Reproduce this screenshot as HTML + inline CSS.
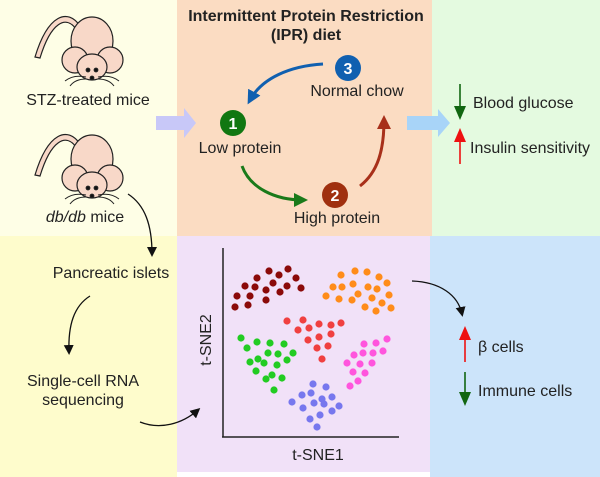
<!DOCTYPE html>
<html><head><meta charset="utf-8"><style>
html,body{margin:0;padding:0;background:#fff}
svg{display:block}
text{font-family:"Liberation Sans",sans-serif;fill:#222}
</style></head><body>
<svg width="600" height="477" viewBox="0 0 600 477" xmlns="http://www.w3.org/2000/svg">
<defs>
<marker id="ah" markerWidth="10" markerHeight="10" refX="7" refY="5" orient="auto" markerUnits="userSpaceOnUse"><path d="M0,0 L10,5 L0,10 z" fill="#111"/></marker>
<marker id="ab" markerWidth="14" markerHeight="14" refX="9" refY="7" orient="auto" markerUnits="userSpaceOnUse"><path d="M0,0 L14,7 L0,14 z" fill="#1060b0"/></marker>
<marker id="ag" markerWidth="14" markerHeight="14" refX="9" refY="7" orient="auto" markerUnits="userSpaceOnUse"><path d="M0,0 L14,7 L0,14 z" fill="#1a7a1a"/></marker>
<marker id="ar" markerWidth="14" markerHeight="14" refX="9" refY="7" orient="auto" markerUnits="userSpaceOnUse"><path d="M0,0 L14,7 L0,14 z" fill="#a8301a"/></marker>
<g id="mouse" stroke="#222" stroke-width="1.2" fill="#f8d8c8">
<path d="M80,26 C68,8 48,14 35,57 L40,58 C51,22 66,15 76,29 z"/>
<ellipse cx="92" cy="41" rx="21" ry="24"/>
<circle cx="75" cy="60" r="13"/>
<circle cx="110" cy="60" r="13"/>
<ellipse cx="92" cy="67" rx="15" ry="13"/>
<circle cx="88" cy="70" r="1.8" fill="#111"/>
<circle cx="96" cy="70" r="1.8" fill="#111"/>
<circle cx="92" cy="78" r="1.8" fill="#111"/>
<path d="M86,77 C77,75 70,77 65,81 M86,79 C78,79 73,82 70,86 M98,77 C107,75 114,77 119,81 M98,79 C106,79 111,82 114,86" fill="none" stroke-width="1"/>
</g>
</defs>
<rect x="0" y="0" width="177" height="236" fill="#fefee6"/>
<rect x="177" y="0" width="255" height="236" fill="#fbdcc2"/>
<rect x="432" y="0" width="168" height="236" fill="#e4fae0"/>
<rect x="0" y="236" width="177" height="241" fill="#fefccc"/>
<rect x="177" y="236" width="253" height="236" fill="#f1e1f8"/>
<rect x="430" y="236" width="170" height="241" fill="#cce4fa"/>

<use href="#mouse"/>
<use href="#mouse" y="118"/>
<text x="88" y="105" font-size="16" text-anchor="middle">STZ-treated mice</text>
<text x="85" y="222" font-size="16" text-anchor="middle"><tspan font-style="italic">db/db</tspan> mice</text>
<path d="M128,194 C145,205 152,225 152,254" fill="none" stroke="#111" stroke-width="1.3" marker-end="url(#ah)"/>
<text x="111" y="278" font-size="16" text-anchor="middle">Pancreatic islets</text>
<path d="M90,296 C74,306 68,325 69,352" fill="none" stroke="#111" stroke-width="1.3" marker-end="url(#ah)"/>
<text x="83" y="386" font-size="16" text-anchor="middle">Single-cell RNA</text>
<text x="83" y="405" font-size="16" text-anchor="middle">sequencing</text>
<path d="M140,422 C160,430 182,424 198,410" fill="none" stroke="#111" stroke-width="1.3" marker-end="url(#ah)"/>

<path d="M156,116 L184,116 L184,108 L196,123 L184,138 L184,130 L156,130 z" fill="#c8c8f8"/>
<path d="M407,116 L438,116 L438,109 L450,123 L438,137 L438,130 L407,130 z" fill="#a8d4f8"/>

<text x="306" y="21" font-size="16" font-weight="bold" text-anchor="middle">Intermittent Protein Restriction</text>
<text x="306" y="40" font-size="16" font-weight="bold" text-anchor="middle">(IPR) diet</text>
<path d="M323,64 C290,66 262,78 250,100" fill="none" stroke="#1060b0" stroke-width="3" marker-end="url(#ab)"/>
<path d="M242,166 C250,188 275,200 303,200" fill="none" stroke="#1a7a1a" stroke-width="3" marker-end="url(#ag)"/>
<path d="M360,186 C378,172 384,150 384,120" fill="none" stroke="#a8301a" stroke-width="3" marker-end="url(#ar)"/>
<circle cx="348" cy="68" r="13" fill="#1060b0"/>
<text x="348" y="74" font-size="16" font-weight="bold" style="fill:#fff" text-anchor="middle">3</text>
<text x="357" y="96" font-size="16" text-anchor="middle">Normal chow</text>
<circle cx="233" cy="123" r="13" fill="#117711"/>
<text x="233" y="129" font-size="16" font-weight="bold" style="fill:#fff" text-anchor="middle">1</text>
<text x="240" y="153" font-size="16" text-anchor="middle">Low protein</text>
<circle cx="335" cy="195" r="13" fill="#a0300f"/>
<text x="335" y="201" font-size="16" font-weight="bold" style="fill:#fff" text-anchor="middle">2</text>
<text x="337" y="223" font-size="16" text-anchor="middle">High protein</text>

<line x1="460" y1="84" x2="460" y2="108" stroke="#116611" stroke-width="1.6"/>
<path d="M454,106 L466,106 L460,120 z" fill="#116611"/>
<text x="473" y="108" font-size="16">Blood glucose</text>
<line x1="460" y1="164" x2="460" y2="140" stroke="#ee1111" stroke-width="1.6"/>
<path d="M454,142 L466,142 L460,128 z" fill="#ee1111"/>
<text x="470" y="153" font-size="16">Insulin sensitivity</text>

<line x1="223" y1="248" x2="223" y2="437" stroke="#222" stroke-width="1.5"/>
<line x1="222" y1="437" x2="399" y2="437" stroke="#222" stroke-width="1.5"/>
<text x="318" y="460" font-size="16" text-anchor="middle">t-SNE1</text>
<text transform="translate(211,340) rotate(-90)" font-size="16" text-anchor="middle">t-SNE2</text>
<g fill="#8b0a0a">
<circle cx="235" cy="307" r="3.6"/><circle cx="237" cy="296" r="3.6"/><circle cx="245" cy="286" r="3.6"/><circle cx="250" cy="296" r="3.6"/><circle cx="248" cy="305" r="3.6"/><circle cx="257" cy="278" r="3.6"/><circle cx="255" cy="287" r="3.6"/><circle cx="266" cy="290" r="3.6"/><circle cx="266" cy="300" r="3.6"/><circle cx="269" cy="271" r="3.6"/><circle cx="273" cy="283" r="3.6"/><circle cx="279" cy="275" r="3.6"/><circle cx="280" cy="292" r="3.6"/><circle cx="288" cy="269" r="3.6"/><circle cx="287" cy="286" r="3.6"/><circle cx="296" cy="278" r="3.6"/><circle cx="301" cy="288" r="3.6"/>
</g>
<g fill="#ff8c1a">
<circle cx="326" cy="296" r="3.6"/><circle cx="333" cy="287" r="3.6"/><circle cx="339" cy="299" r="3.6"/><circle cx="342" cy="287" r="3.6"/><circle cx="341" cy="275" r="3.6"/><circle cx="353" cy="284" r="3.6"/><circle cx="352" cy="300" r="3.6"/><circle cx="355" cy="271" r="3.6"/><circle cx="358" cy="294" r="3.6"/><circle cx="367" cy="272" r="3.6"/><circle cx="368" cy="287" r="3.6"/><circle cx="365" cy="307" r="3.6"/><circle cx="372" cy="298" r="3.6"/><circle cx="377" cy="289" r="3.6"/><circle cx="379" cy="277" r="3.6"/><circle cx="387" cy="283" r="3.6"/><circle cx="389" cy="295" r="3.6"/><circle cx="382" cy="303" r="3.6"/><circle cx="376" cy="311" r="3.6"/><circle cx="391" cy="308" r="3.6"/>
</g>
<g fill="#f04040">
<circle cx="287" cy="321" r="3.6"/><circle cx="298" cy="330" r="3.6"/><circle cx="303" cy="320" r="3.6"/><circle cx="309" cy="328" r="3.6"/><circle cx="308" cy="340" r="3.6"/><circle cx="319" cy="324" r="3.6"/><circle cx="319" cy="337" r="3.6"/><circle cx="317" cy="348" r="3.6"/><circle cx="328" cy="346" r="3.6"/><circle cx="331" cy="325" r="3.6"/><circle cx="331" cy="334" r="3.6"/><circle cx="341" cy="323" r="3.6"/><circle cx="322" cy="359" r="3.6"/>
</g>
<g fill="#22cc22">
<circle cx="241" cy="338" r="3.6"/><circle cx="257" cy="342" r="3.6"/><circle cx="247" cy="348" r="3.6"/><circle cx="270" cy="343" r="3.6"/><circle cx="284" cy="344" r="3.6"/><circle cx="268" cy="353" r="3.6"/><circle cx="278" cy="354" r="3.6"/><circle cx="293" cy="353" r="3.6"/><circle cx="250" cy="362" r="3.6"/><circle cx="258" cy="359" r="3.6"/><circle cx="264" cy="363" r="3.6"/><circle cx="277" cy="365" r="3.6"/><circle cx="287" cy="360" r="3.6"/><circle cx="256" cy="371" r="3.6"/><circle cx="272" cy="375" r="3.6"/><circle cx="282" cy="378" r="3.6"/><circle cx="266" cy="379" r="3.6"/><circle cx="274" cy="390" r="3.6"/>
</g>
<g fill="#ff55dd">
<circle cx="387" cy="339" r="3.6"/><circle cx="376" cy="343" r="3.6"/><circle cx="364" cy="344" r="3.6"/><circle cx="383" cy="351" r="3.6"/><circle cx="373" cy="353" r="3.6"/><circle cx="363" cy="353" r="3.6"/><circle cx="354" cy="355" r="3.6"/><circle cx="347" cy="363" r="3.6"/><circle cx="360" cy="364" r="3.6"/><circle cx="372" cy="363" r="3.6"/><circle cx="353" cy="372" r="3.6"/><circle cx="365" cy="373" r="3.6"/><circle cx="358" cy="381" r="3.6"/><circle cx="350" cy="386" r="3.6"/>
</g>
<g fill="#7777ee">
<circle cx="313" cy="384" r="3.6"/><circle cx="326" cy="387" r="3.6"/><circle cx="302" cy="395" r="3.6"/><circle cx="311" cy="393" r="3.6"/><circle cx="322" cy="399" r="3.6"/><circle cx="332" cy="397" r="3.6"/><circle cx="292" cy="402" r="3.6"/><circle cx="303" cy="408" r="3.6"/><circle cx="314" cy="403" r="3.6"/><circle cx="324" cy="404" r="3.6"/><circle cx="339" cy="406" r="3.6"/><circle cx="332" cy="411" r="3.6"/><circle cx="320" cy="415" r="3.6"/><circle cx="310" cy="419" r="3.6"/><circle cx="317" cy="427" r="3.6"/>
</g>

<path d="M412,281 C440,282 458,295 462,314" fill="none" stroke="#111" stroke-width="1.3" marker-end="url(#ah)"/>
<line x1="465" y1="362" x2="465" y2="338" stroke="#ee1111" stroke-width="1.6"/>
<path d="M459,340 L471,340 L465,326 z" fill="#ee1111"/>
<text x="478" y="352" font-size="16">β cells</text>
<line x1="465" y1="372" x2="465" y2="394" stroke="#116611" stroke-width="1.6"/>
<path d="M459,392 L471,392 L465,406 z" fill="#116611"/>
<text x="478" y="396" font-size="16">Immune cells</text>
</svg>
</body></html>
